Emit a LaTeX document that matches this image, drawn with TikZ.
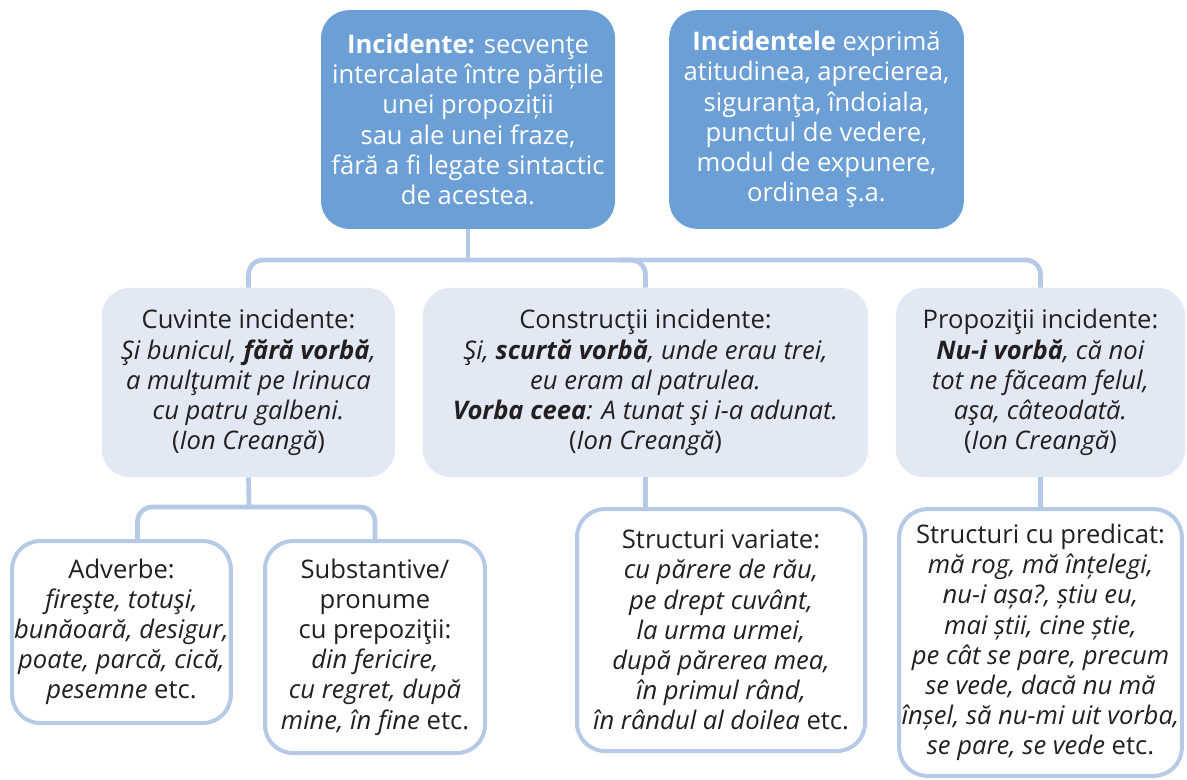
\documentclass[tikz,border=0pt]{standalone}
\usepackage{fontspec}
\setmainfont{Open Sans}
\usetikzlibrary{positioning}
\definecolor{headblue}{RGB}{108,159,213}
\definecolor{paleblue}{RGB}{226,233,245}
\definecolor{linkblue}{RGB}{182,202,232}
\definecolor{ink}{RGB}{35,31,32}
\newcommand{\bi}[1]{\textbf{\textit{#1}}}

\begin{document}
\begin{tikzpicture}[x=0.75pt,y=-0.75pt,
  every node/.style={font=\fontsize{19.2}{22.6}\selectfont,align=center,inner sep=0pt,text=ink},
  headbox/.style={fill=headblue,text=white,rounded corners=21pt},
  groupbox/.style={fill=paleblue,rounded corners=21pt},
  leafbox/.style={draw=linkblue,line width=3pt,fill=white,rounded corners=21pt},
  link/.style={draw=linkblue,line width=3.5pt}]
\useasboundingbox (0,0) rectangle (1187,779);
% ---- definitions ----
\node[headbox,minimum width=220.5pt,minimum height=164pt] (incid) at (468,119.5)
  {\textbf{Incidente:} secvenţe\\intercalate între părțile\\unei propoziții\\sau ale unei fraze,\\fără a fi legate sintactic\\de acestea.};
\node[headbox,minimum width=221pt,minimum height=164pt] (expr) at (816.5,119.5)
  {\textbf{Incidentele} exprimă\\atitudinea, aprecierea,\\siguranţa, îndoiala,\\punctul de vedere,\\modul de expunere,\\ordinea ş.a.};
% ---- kinds ----
\node[groupbox,minimum width=220pt,minimum height=142pt] (cuv) at (248.5,382.5)
  {Cuvinte incidente:\\\textit{Şi bunicul, \bi{fără vorbă},}\\\textit{a mulţumit pe Irinuca}\\\textit{cu patru galbeni.}\\(\textit{Ion Creangă})};
\node[groupbox,minimum width=334pt,minimum height=142pt] (cons) at (645.5,382.5)
  {Construcţii incidente:\\\textit{Şi, \bi{scurtă vorbă}, unde erau trei,}\\\textit{eu eram al patrulea.}\\\bi{Vorba ceea}\textit{: A tunat şi i-a adunat.}\\(\textit{Ion Creangă})};
\node[groupbox,minimum width=217pt,minimum height=142pt] (prop) at (1040.5,382.5)
  {Propoziţii incidente:\\\textit{\bi{Nu-i vorbă}, că noi}\\\textit{tot ne făceam felul,}\\\textit{aşa, câteodată.}\\(\textit{Ion Creangă})};
% ---- examples ----
\node[leafbox,minimum width=164pt,minimum height=136.5pt] (adv) at (121.5,632)
  {Adverbe:\\\textit{fireşte, totuşi,}\\\textit{bunăoară, desigur,}\\\textit{poate, parcă, cică,}\\\textit{pesemne} etc.};
\node[leafbox,minimum width=165pt,minimum height=159pt] (subst) at (375,647)
  {Substantive/\\pronume\\cu prepoziţii:\\\textit{din fericire,}\\\textit{cu regret, după}\\\textit{mine, în fine} etc.};
\node[leafbox,minimum width=216pt,minimum height=181.5pt] (var) at (721,630)
  {Structuri variate:\\\textit{cu părere de rău,}\\\textit{pe drept cuvânt,}\\\textit{la urma urmei,}\\\textit{după părerea mea,}\\\textit{în primul rând,}\\\textit{în rândul al doilea} etc.};
\node[leafbox,minimum width=212pt,minimum height=200pt] (pred) at (1040.5,642.5)
  {Structuri cu predicat:\\\textit{mă rog, mă înțelegi,}\\\textit{nu-i așa?, știu eu,}\\\textit{mai știi, cine știe,}\\\textit{pe cât se pare, precum}\\\textit{se vede, dacă nu mă}\\\textit{înșel, să nu-mi uit vorba,}\\\textit{se pare, se vede} etc.};
% ---- connectors ----
\coordinate (bus) at (468,260);
\coordinate (bus2) at (249,507);
\draw[link] (incid.south) -- (bus);
\draw[link,rounded corners=11pt] (cuv.north) |- (prop.north |- bus) -- (prop.north);
\draw[link,rounded corners=11pt] (cons.north) |- ([xshift=-20pt]cons.north |- bus);
\draw[link] (cuv.south) -- (bus2);
\draw[link,rounded corners=11pt] ([xshift=12pt]adv.north) |- (bus2) -| (subst.north);
\draw[link] (cons.south) -- (cons.south |- var.north);
\draw[link] (prop.south) -- (prop.south |- pred.north);
\end{tikzpicture}
\end{document}
